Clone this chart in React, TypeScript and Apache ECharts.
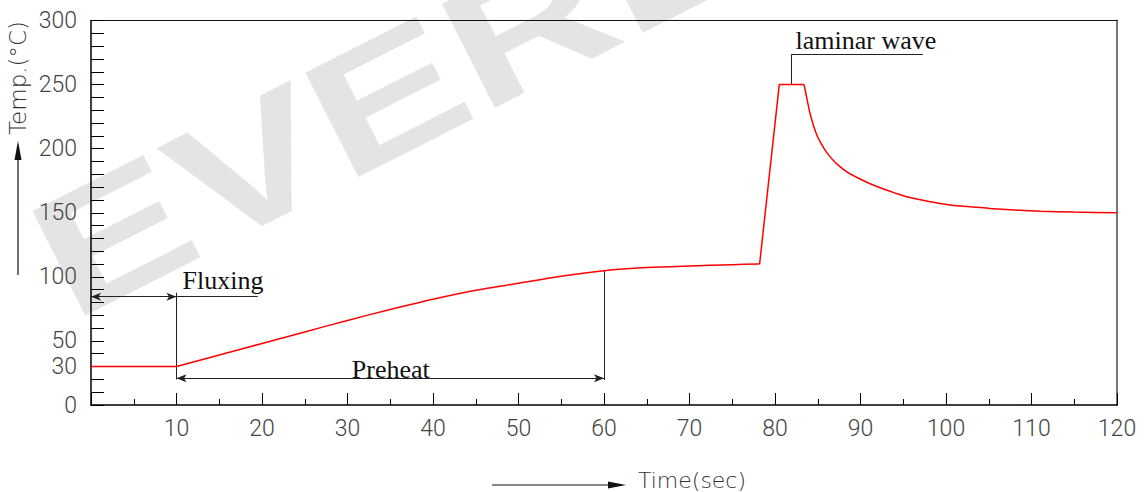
import React, { useEffect, useRef } from "react";
import * as echarts from "echarts";

// ---- data ----
// soak before fluxing
const flatTime = [0, 10];
const flatTemp = [30, 30];
// preheat ramp
const preheatTime = [10, 15, 20, 25, 30, 35, 40, 45, 50, 55, 60, 65, 70, 75, 78.2];
const preheatTemp = [30, 39, 48, 57, 66, 74.5, 82.5, 89.5, 95, 100.5, 104.8, 107.2, 108.5, 109.5, 110];
// laminar wave rise and plateau
const peakTime = [78.2, 80.5, 83.4];
const peakTemp = [110, 250, 250];
// cooling
const coolTime = [83.4, 83.7, 84.1, 84.5, 84.9, 85.4, 86, 86.8, 87.6, 88.5, 89.6, 91, 92.3, 94, 95.4, 97.3, 99.3, 102, 105.1, 108, 111, 115, 120];
const coolTemp = [250, 240, 227.5, 218, 210.5, 204, 197.5, 191, 186, 181.5, 177.5, 173, 169.5, 165.5, 162.5, 159.8, 157.3, 155, 153.4, 152.2, 151.2, 150.5, 150];

const xLabelValues = [10, 20, 30, 40, 50, 60, 70, 80, 90, 100, 110, 120];
const yLabelValues = [0, 30, 50, 100, 150, 200, 250, 300];

// dimension lines
const dimFrom = [
  [0, 84.5], [10, 84.5], [10, 20], [10, 20.8], [60, 19.5], [81.9, 250], [81.9, 273.8],
];
const dimTo = [
  [10, 84.5], [19.5, 84.5], [10, 87.6], [60, 20.8], [60, 104.8], [81.9, 273.8], [97.3, 273.8],
];
const dimArrows = [true, false, false, true, false, false, false];

const annoTexts = ["Fluxing", "Preheat", "laminar wave"];
const annoTime = [10.7, 30.5, 82.4];
const annoTemp = [90.5, 21, 277];

function pairs(xs: number[], ys: number[]) {
  return xs.map((x, i) => [x, ys[i]]);
}

export default function App() {
  const ref = useRef<HTMLDivElement>(null);

  useEffect(() => {
    if (!ref.current) return;
    const chart = echarts.init(ref.current, undefined, { renderer: "svg" });

    const tickFont = {
      fontFamily: "Roboto",
      fontWeight: 300 as any,
      fontSize: 23,
      color: "#444",
    };

    const redLine = (data: number[][], smooth: boolean | number, extra: any = {}) => ({
      type: "line",
      xAxisIndex: 0,
      yAxisIndex: 0,
      data,
      smooth,
      showSymbol: false,
      symbol: "none",
      lineStyle: { color: "#ff0000", width: 1.5 },
      z: 5,
      ...extra,
    });

    const option: any = {
      animation: false,
      grid: { left: 91, right: 28, top: 20.5, bottom: 87, containLabel: false },
      xAxis: [
        {
          type: "value",
          min: 0,
          max: 120,
          interval: 10,
          axisLine: { onZero: false, lineStyle: { color: "#000", width: 1.5 } },
          axisTick: { inside: true, length: 12, lineStyle: { color: "#000", width: 1 } },
          minorTick: { show: true, splitNumber: 2, length: 6, lineStyle: { color: "#000", width: 1 } },
          splitLine: { show: false },
          minorSplitLine: { show: false },
          axisLabel: {
            ...tickFont,
            margin: 12,
            formatter: (v: number) => (xLabelValues.indexOf(v) >= 0 ? String(v) : ""),
          },
        },
        {
          type: "value",
          position: "top",
          min: 0,
          max: 120,
          axisLine: { onZero: false, lineStyle: { color: "#111", width: 1 } },
          axisTick: { show: false },
          axisLabel: { show: false },
          splitLine: { show: false },
        },
      ],
      yAxis: [
        {
          type: "value",
          min: 0,
          max: 300,
          interval: 10,
          axisLine: { onZero: false, lineStyle: { color: "#000", width: 1.5 } },
          axisTick: { inside: true, length: 13, lineStyle: { color: "#000", width: 1 } },
          splitLine: { show: false },
          axisLabel: {
            ...tickFont,
            margin: 14,
            formatter: (v: number) => (yLabelValues.indexOf(v) >= 0 ? String(v) : ""),
          },
        },
        {
          type: "value",
          position: "right",
          min: 0,
          max: 300,
          axisLine: { show: true, onZero: false, lineStyle: { color: "#777", width: 2 } },
          axisTick: { show: false },
          axisLabel: { show: false },
          splitLine: { show: false },
        },
      ],
      series: [
        redLine(pairs(flatTime, flatTemp), false, {
          markLine: {
            silent: true,
            animation: false,
            symbolSize: [6, 10],
            label: { show: false },
            lineStyle: { color: "#222", width: 1, type: "solid" },
            emphasis: { disabled: true },
            data: dimFrom.map((f, i) => [
              { coord: f, symbol: dimArrows[i] ? "arrow" : "none" },
              { coord: dimTo[i], symbol: dimArrows[i] ? "arrow" : "none" },
            ]),
          },
        }),
        redLine(pairs(preheatTime, preheatTemp), 0.3),
        redLine(pairs(peakTime, peakTemp), false),
        redLine(pairs(coolTime, coolTemp), 0.25),
      ],
    };

    chart.setOption(option);

    const annoGraphics = annoTexts.map((txt, i) => {
      const p = chart.convertToPixel({ xAxisIndex: 0, yAxisIndex: 0 }, [annoTime[i], annoTemp[i]]) as number[];
      return {
        type: "text",
        x: p[0],
        y: p[1] - 9,
        z: 10,
        style: {
          text: txt,
          fill: "#111",
          font: "26px 'Liberation Serif', 'Times New Roman', serif",
          textAlign: "left",
          textVerticalAlign: "middle",
        },
      };
    });

    chart.setOption({
      graphic: [
        {
          type: "group",
          x: 392,
          y: 94,
          rotation: 0.47,
          z: -10,
          silent: true,
          children: [
            {
              type: "text",
              x: 0,
              y: 0,
              scaleX: 1.35,
              z: -10,
              silent: true,
              style: {
                text: "EVERE",
                fill: "#e4e4e4",
                font: "bold 170px 'Liberation Sans', Arial, sans-serif",
                textAlign: "center",
                textVerticalAlign: "middle",
              },
            },
          ],
        },
        ...annoGraphics,
        {
          type: "text",
          x: 692,
          y: 480,
          style: {
            text: "Time(sec)",
            fill: "#333",
            font: "200 22px 'DejaVu Sans', sans-serif",
            lineHeight: 22,
            textAlign: "center",
            textVerticalAlign: "middle",
          },
        },
        {
          type: "line",
          shape: { x1: 492, y1: 485, x2: 612, y2: 485 },
          style: { stroke: "#111", lineWidth: 1.2 },
        },
        {
          type: "polygon",
          shape: { points: [[626, 485], [608, 481.5], [608, 488.5]] },
          style: { fill: "#111" },
        },
        {
          type: "text",
          x: 18,
          y: 78,
          rotation: Math.PI / 2,
          style: {
            text: "Temp.(°C)",
            fill: "#333",
            font: "200 23px 'DejaVu Sans', sans-serif",
            textAlign: "center",
            textVerticalAlign: "middle",
          },
        },
        {
          type: "line",
          shape: { x1: 18, y1: 275, x2: 18, y2: 155 },
          style: { stroke: "#111", lineWidth: 1.2 },
        },
        {
          type: "polygon",
          shape: { points: [[18, 141], [14.5, 160], [21.5, 160]] },
          style: { fill: "#111" },
        },
      ],
    });

    return () => chart.dispose();
  }, []);

  return (
    <div
      ref={ref}
      style={{ position: "fixed", left: 0, top: 0, width: 1145, height: 492, background: "#fff" }}
    />
  );
}
